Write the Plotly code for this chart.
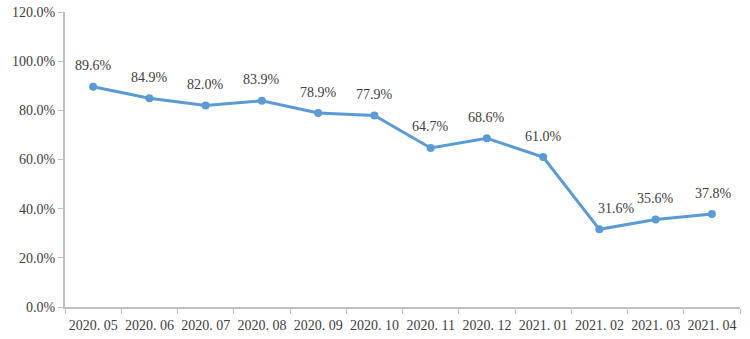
import plotly.graph_objects as go

months = ["2020. 05", "2020. 06", "2020. 07", "2020. 08", "2020. 09", "2020. 10",
          "2020. 11", "2020. 12", "2021. 01", "2021. 02", "2021. 03", "2021. 04"]
rates = [89.6, 84.9, 82.0, 83.9, 78.9, 77.9, 64.7, 68.6, 61.0, 31.6, 35.6, 37.8]
label_xshift = [0, 0, 0, 0, 0, 0, 0, 0, 0, 17, 0, 2]

y_ticks = [0, 20, 40, 60, 80, 100, 120]
y_tick_text = ["%.1f%%" % v for v in y_ticks]

FONT = "Liberation Serif, serif"
LINE = "#5B9BD5"
AXIS = "#BFBFBF"
TEXT = "#404040"

fig = go.Figure()
fig.add_trace(go.Scatter(
    x=months, y=rates, mode="lines+markers",
    line=dict(color=LINE, width=3),
    marker=dict(color=LINE, size=8),
    hoverinfo="skip", showlegend=False, cliponaxis=False,
))

for m, v, dx in zip(months, rates, label_xshift):
    fig.add_annotation(x=m, y=v, text="%.1f%%" % v, showarrow=False,
                       yshift=21, xshift=dx,
                       font=dict(family=FONT, size=14, color=TEXT))

fig.update_layout(
    width=750, height=339,
    margin=dict(l=65, r=10, t=12, b=32),
    paper_bgcolor="white", plot_bgcolor="white",
    font=dict(family=FONT, size=14, color=TEXT),
)
fig.update_xaxes(
    type="category", tickson="boundaries", tickangle=0, automargin=False,
    range=[-0.5, len(months) - 0.5], ticklabelstandoff=4,
    showline=True, linecolor=AXIS, linewidth=2,
    ticks="outside", ticklen=5, tickcolor=AXIS, tickwidth=1,
    showgrid=False, zeroline=False,
    tickfont=dict(family=FONT, size=14, color=TEXT),
)
fig.update_yaxes(
    range=[0, 120], tickvals=y_ticks, ticktext=y_tick_text, automargin=False,
    showline=True, linecolor=AXIS, linewidth=2,
    ticks="outside", ticklen=5, tickcolor=AXIS, tickwidth=1,
    showgrid=False, zeroline=False,
    tickfont=dict(family=FONT, size=14, color=TEXT),
)

fig.write_html("out.html")
